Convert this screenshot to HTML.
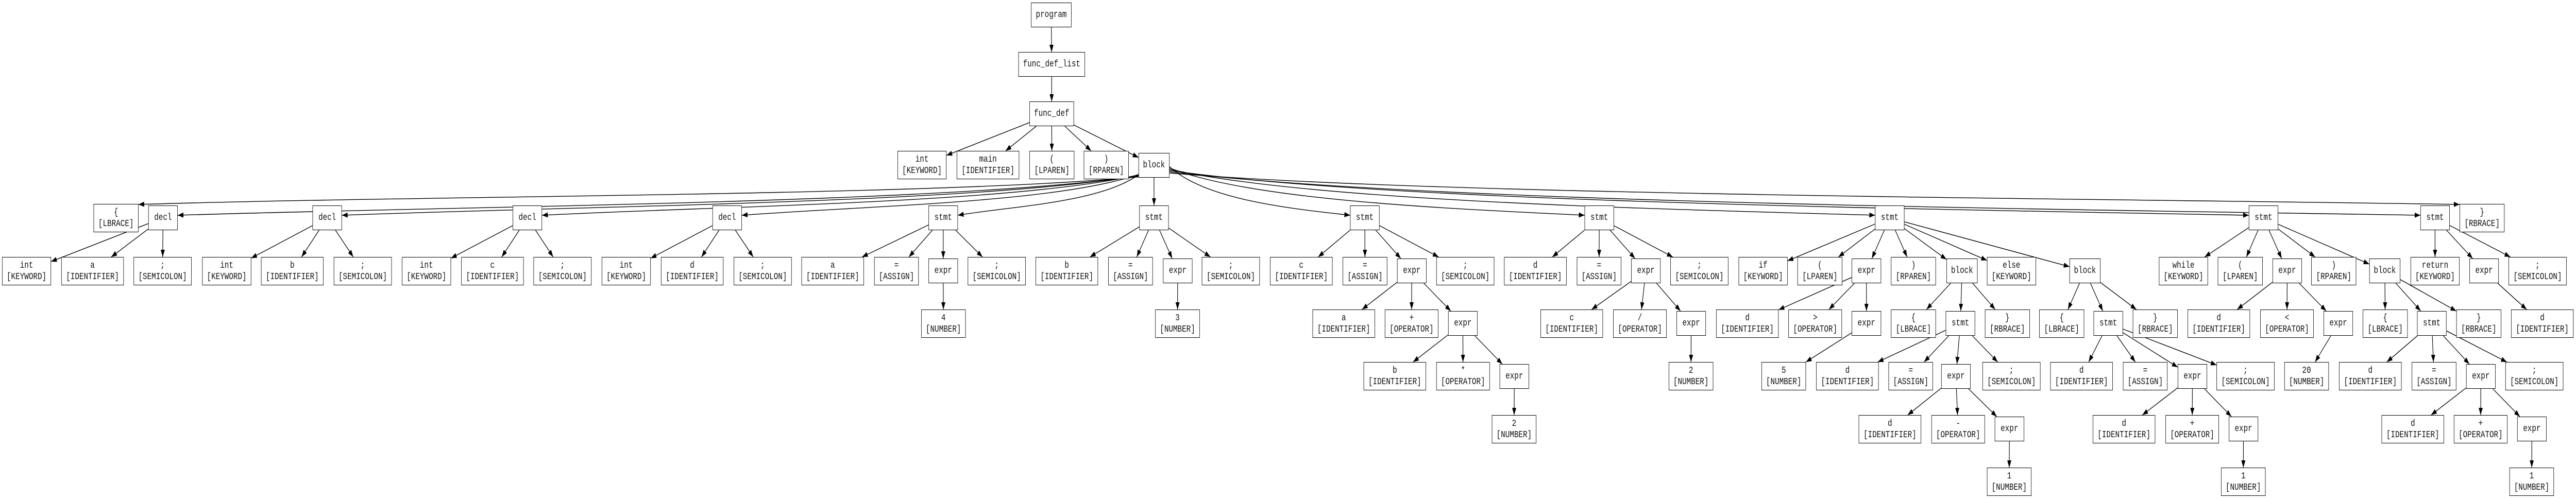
<!DOCTYPE html>
<html><head><meta charset="utf-8"><style>
html,body{margin:0;padding:0;background:#fff;width:100%;height:100%;overflow:hidden}
#c{position:absolute;left:0;top:0;width:6306px;height:969px;overflow:hidden;background:#fff;transform-origin:0 0}
svg{position:absolute;left:0;top:0}
.n{position:absolute;box-sizing:border-box;border:1.4px solid #000;background:#fff;text-align:center;font:18px/22px "Liberation Mono","DejaVu Sans Mono",monospace;color:#111;white-space:nowrap;overflow:hidden}
.s{height:48px;padding-top:12px}.t{height:55px;padding-top:5px}
.s.L0{top:5px}.s.L1{top:101px}.s.L2{top:197px}.s.L3{top:297px}.s.L4{top:399px}.s.L5{top:502px}.s.L6{top:604px}.s.L7{top:707px}.s.L8{top:809px}
.t.L3{top:293px}.t.L4{top:396px}.t.L5{top:499px}.t.L6{top:601px}.t.L7{top:703px}.t.L8{top:806px}.t.L9{top:908px}
.kw{width:120px}.id{width:153px}.sc{width:142px}.as{width:109px}.op{width:131px}.nu{width:109px}.pa{width:110px}.br{width:110px}.st{width:72px}.bl{width:76px}
</style></head><body><div id="c">
<svg id="e" width="6306" height="969"><defs><marker id="a" markerUnits="userSpaceOnUse" markerWidth="15" markerHeight="11" refX="14" refY="5" orient="auto"><path d="M0,0L14,5L0,10z" fill="#000"/></marker></defs></svg>

<div id="p" class="n s L0" style="left:2524px;width:99px">program</div>
<div id="fl" class="n s L1" style="left:2493px;width:163px">func_def_list</div>
<div id="fd" class="n s L2" style="left:2520px;width:109px">func_def</div>
<div id="k1" class="n t L3 kw" style="left:2197px">int<br>[KEYWORD]</div>
<div id="k2" class="n t L3 id" style="left:2342px">main<br>[IDENTIFIER]</div>
<div id="k3" class="n t L3 pa" style="left:2520px">(<br>[LPAREN]</div>
<div id="k4" class="n t L3 pa" style="left:2653px">)<br>[RPAREN]</div>
<div id="b" class="n s L3 bl" style="left:2787px">block</div>

<div id="lb" class="n t L4 br" style="left:229px">{<br>[LBRACE]</div>
<div id="d1" class="n s L4 st" style="left:363px">decl</div>
<div id="d2" class="n s L4 st" style="left:765px">decl</div>
<div id="d3" class="n s L4 st" style="left:1255px">decl</div>
<div id="d4" class="n s L4 st" style="left:1744px">decl</div>
<div id="s1" class="n s L4 st" style="left:2273px">stmt</div>
<div id="s2" class="n s L4 st" style="left:2789px">stmt</div>
<div id="s3" class="n s L4 st" style="left:3305px">stmt</div>
<div id="s4" class="n s L4 st" style="left:3879px">stmt</div>
<div id="s5" class="n s L4 st" style="left:4590px">stmt</div>
<div id="s6" class="n s L4 st" style="left:5505px">stmt</div>
<div id="s7" class="n s L4 st" style="left:5925px">stmt</div>
<div id="rb" class="n t L4 br" style="left:6021px">}<br>[RBRACE]</div>

<div id="d1a" class="n t L5 kw" style="left:5px">int<br>[KEYWORD]</div>
<div id="d1b" class="n t L5 id" style="left:150px">a<br>[IDENTIFIER]</div>
<div id="d1c" class="n t L5 sc" style="left:327px">;<br>[SEMICOLON]</div>
<div id="d2a" class="n t L5 kw" style="left:495px">int<br>[KEYWORD]</div>
<div id="d2b" class="n t L5 id" style="left:639px">b<br>[IDENTIFIER]</div>
<div id="d2c" class="n t L5 sc" style="left:817px">;<br>[SEMICOLON]</div>
<div id="d3a" class="n t L5 kw" style="left:984px">int<br>[KEYWORD]</div>
<div id="d3b" class="n t L5 id" style="left:1129px">c<br>[IDENTIFIER]</div>
<div id="d3c" class="n t L5 sc" style="left:1306px">;<br>[SEMICOLON]</div>
<div id="d4a" class="n t L5 kw" style="left:1473px">int<br>[KEYWORD]</div>
<div id="d4b" class="n t L5 id" style="left:1618px">d<br>[IDENTIFIER]</div>
<div id="d4c" class="n t L5 sc" style="left:1796px">;<br>[SEMICOLON]</div>

<div id="s1a" class="n t L5 id" style="left:1962px">a<br>[IDENTIFIER]</div>
<div id="s1b" class="n t L5 as" style="left:2140px">=<br>[ASSIGN]</div>
<div id="e1" class="n s L5 st" style="left:2273px">expr</div>
<div id="s1c" class="n t L5 sc" style="left:2369px">;<br>[SEMICOLON]</div>
<div id="n1" class="n t L6 nu" style="left:2255px">4<br>[NUMBER]</div>

<div id="s2a" class="n t L5 id" style="left:2535px">b<br>[IDENTIFIER]</div>
<div id="s2b" class="n t L5 as" style="left:2713px">=<br>[ASSIGN]</div>
<div id="e2" class="n s L5 st" style="left:2847px">expr</div>
<div id="s2c" class="n t L5 sc" style="left:2942px">;<br>[SEMICOLON]</div>
<div id="n2" class="n t L6 nu" style="left:2828px">3<br>[NUMBER]</div>

<div id="s3a" class="n t L5 id" style="left:3109px">c<br>[IDENTIFIER]</div>
<div id="s3b" class="n t L5 as" style="left:3287px">=<br>[ASSIGN]</div>
<div id="e3" class="n s L5 st" style="left:3420px">expr</div>
<div id="s3c" class="n t L5 sc" style="left:3516px">;<br>[SEMICOLON]</div>
<div id="e3a" class="n t L6 id" style="left:3213px">a<br>[IDENTIFIER]</div>
<div id="e3o" class="n t L6 op" style="left:3390px">+<br>[OPERATOR]</div>
<div id="e3b" class="n s L6 st" style="left:3545px">expr</div>
<div id="e3c" class="n t L7 id" style="left:3338px">b<br>[IDENTIFIER]</div>
<div id="e3p" class="n t L7 op" style="left:3516px">*<br>[OPERATOR]</div>
<div id="e3d" class="n s L7 st" style="left:3671px">expr</div>
<div id="n3" class="n t L8 nu" style="left:3652px">2<br>[NUMBER]</div>

<div id="s4a" class="n t L5 id" style="left:3682px">d<br>[IDENTIFIER]</div>
<div id="s4b" class="n t L5 as" style="left:3860px">=<br>[ASSIGN]</div>
<div id="e4" class="n s L5 st" style="left:3993px">expr</div>
<div id="s4c" class="n t L5 sc" style="left:4089px">;<br>[SEMICOLON]</div>
<div id="e4a" class="n t L6 id" style="left:3771px">c<br>[IDENTIFIER]</div>
<div id="e4o" class="n t L6 op" style="left:3949px">/<br>[OPERATOR]</div>
<div id="e4b" class="n s L6 st" style="left:4104px">expr</div>
<div id="n4" class="n t L7 nu" style="left:4085px">2<br>[NUMBER]</div>

<div id="s5a" class="n t L5 kw" style="left:4256px">if<br>[KEYWORD]</div>
<div id="s5b" class="n t L5 pa" style="left:4400px">(<br>[LPAREN]</div>
<div id="e5" class="n s L5 st" style="left:4533px">expr</div>
<div id="s5c" class="n t L5 pa" style="left:4629px">)<br>[RPAREN]</div>
<div id="b5" class="n s L5 bl" style="left:4765px">block</div>
<div id="s5d" class="n t L5 kw" style="left:4864px">else<br>[KEYWORD]</div>
<div id="b6" class="n s L5 bl" style="left:5066px">block</div>
<div id="e5a" class="n t L6 id" style="left:4201px">d<br>[IDENTIFIER]</div>
<div id="e5o" class="n t L6 op" style="left:4378px">&gt;<br>[OPERATOR]</div>
<div id="e5b" class="n s L6 st" style="left:4533px">expr</div>
<div id="n5" class="n t L7 nu" style="left:4312px">5<br>[NUMBER]</div>
<div id="b5a" class="n t L6 br" style="left:4629px">{<br>[LBRACE]</div>
<div id="t5" class="n s L6 st" style="left:4763px">stmt</div>
<div id="b5c" class="n t L6 br" style="left:4859px">}<br>[RBRACE]</div>
<div id="t5a" class="n t L7 id" style="left:4446px">d<br>[IDENTIFIER]</div>
<div id="t5b" class="n t L7 as" style="left:4623px">=<br>[ASSIGN]</div>
<div id="e5c" class="n s L7 st" style="left:4752px">expr</div>
<div id="t5c" class="n t L7 sc" style="left:4853px">;<br>[SEMICOLON]</div>
<div id="e5d" class="n t L8 id" style="left:4550px">d<br>[IDENTIFIER]</div>
<div id="e5p" class="n t L8 op" style="left:4728px">-<br>[OPERATOR]</div>
<div id="e5e" class="n s L8 st" style="left:4883px">expr</div>
<div id="n6" class="n t L9 nu" style="left:4864px">1<br>[NUMBER]</div>
<div id="b6a" class="n t L6 br" style="left:4992px">{<br>[LBRACE]</div>
<div id="t6" class="n s L6 st" style="left:5125px">stmt</div>
<div id="b6c" class="n t L6 br" style="left:5221px">}<br>[RBRACE]</div>
<div id="t6a" class="n t L7 id" style="left:5019px">d<br>[IDENTIFIER]</div>
<div id="t6b" class="n t L7 as" style="left:5197px">=<br>[ASSIGN]</div>
<div id="e6" class="n s L7 st" style="left:5331px">expr</div>
<div id="t6c" class="n t L7 sc" style="left:5426px">;<br>[SEMICOLON]</div>
<div id="e6a" class="n t L8 id" style="left:5123px">d<br>[IDENTIFIER]</div>
<div id="e6o" class="n t L8 op" style="left:5301px">+<br>[OPERATOR]</div>
<div id="e6b" class="n s L8 st" style="left:5456px">expr</div>
<div id="n7" class="n t L9 nu" style="left:5437px">1<br>[NUMBER]</div>

<div id="s6a" class="n t L5 kw" style="left:5285px">while<br>[KEYWORD]</div>
<div id="s6b" class="n t L5 pa" style="left:5429px">(<br>[LPAREN]</div>
<div id="e7" class="n s L5 st" style="left:5563px">expr</div>
<div id="s6c" class="n t L5 pa" style="left:5658px">)<br>[RPAREN]</div>
<div id="b7" class="n s L5 bl" style="left:5800px">block</div>
<div id="e7a" class="n t L6 id" style="left:5355px">d<br>[IDENTIFIER]</div>
<div id="e7o" class="n t L6 op" style="left:5533px">&lt;<br>[OPERATOR]</div>
<div id="e7b" class="n s L6 st" style="left:5688px">expr</div>
<div id="n8" class="n t L7 nu" style="left:5592px">20<br>[NUMBER]</div>
<div id="b7a" class="n t L6 br" style="left:5784px">{<br>[LBRACE]</div>
<div id="t7" class="n s L6 st" style="left:5917px">stmt</div>
<div id="b7c" class="n t L6 br" style="left:6013px">}<br>[RBRACE]</div>
<div id="t7a" class="n t L7 id" style="left:5726px">d<br>[IDENTIFIER]</div>
<div id="t7b" class="n t L7 as" style="left:5904px">=<br>[ASSIGN]</div>
<div id="e8" class="n s L7 st" style="left:6037px">expr</div>
<div id="t7c" class="n t L7 sc" style="left:6133px">;<br>[SEMICOLON]</div>
<div id="e8a" class="n t L8 id" style="left:5830px">d<br>[IDENTIFIER]</div>
<div id="e8o" class="n t L8 op" style="left:6007px">+<br>[OPERATOR]</div>
<div id="e8b" class="n s L8 st" style="left:6162px">expr</div>
<div id="n9" class="n t L9 nu" style="left:6143px">1<br>[NUMBER]</div>

<div id="s7a" class="n t L5 kw" style="left:5901px">return<br>[KEYWORD]</div>
<div id="e9" class="n s L5 st" style="left:6045px">expr</div>
<div id="s7c" class="n t L5 sc" style="left:6141px">;<br>[SEMICOLON]</div>
<div id="e9a" class="n t L6 id" style="left:6147px">d<br>[IDENTIFIER]</div>
</div>
<script>
var T={p:["fl"],fl:["fd"],fd:["k1","k2","k3","k4","b"],
d1:["d1a","d1b","d1c"],d2:["d2a","d2b","d2c"],d3:["d3a","d3b","d3c"],d4:["d4a","d4b","d4c"],
s1:["s1a","s1b","e1","s1c"],e1:["n1"],s2:["s2a","s2b","e2","s2c"],e2:["n2"],
s3:["s3a","s3b","e3","s3c"],e3:["e3a","e3o","e3b"],e3b:["e3c","e3p","e3d"],e3d:["n3"],
s4:["s4a","s4b","e4","s4c"],e4:["e4a","e4o","e4b"],e4b:["n4"],
s5:["s5a","s5b","e5","s5c","b5","s5d","b6"],e5:["e5a","e5o","e5b"],e5b:["n5"],
b5:["b5a","t5","b5c"],t5:["t5a","t5b","e5c","t5c"],e5c:["e5d","e5p","e5e"],e5e:["n6"],
b6:["b6a","t6","b6c"],t6:["t6a","t6b","e6","t6c"],e6:["e6a","e6o","e6b"],e6b:["n7"],
s6:["s6a","s6b","e7","s6c","b7"],e7:["e7a","e7o","e7b"],e7b:["n8"],
b7:["b7a","t7","b7c"],t7:["t7a","t7b","e8","t7c"],e8:["e8a","e8o","e8b"],e8b:["n9"],
s7:["s7a","e9","s7c"],e9:["e9a"]};
var svg=document.getElementById("e"),NS="http://www.w3.org/2000/svg";
function R(id){var e=document.getElementById(id);return{x:e.offsetLeft,y:e.offsetTop,w:e.offsetWidth,h:e.offsetHeight};}
function add(d){var p=document.createElementNS(NS,"path");p.setAttribute("d",d);p.setAttribute("fill","none");p.setAttribute("stroke","#000");p.setAttribute("stroke-width","1.4");p.setAttribute("marker-end","url(#a)");svg.appendChild(p);}
function clip(r,dx,dy){var cx=r.x+r.w/2,cy=r.y+r.h/2;var t=Math.min(dx?r.w/2/Math.abs(dx):1e9,dy?r.h/2/Math.abs(dy):1e9);return[cx+dx*t,cy+dy*t];}
for(var k in T){T[k].forEach(function(c){var a=R(k),b=R(c);var dx=(b.x+b.w/2)-(a.x+a.w/2),dy=(b.y+b.h/2)-(a.y+a.h/2);var s=clip(a,dx,dy),e=clip(b,-dx,-dy);add("M"+s[0]+","+s[1]+"L"+e[0]+","+e[1]);});}
var B=R("b");
["lb","d1","d2","d3","d4","s1","s3","s4","s5","s6","s7","rb"].forEach(function(c,i){var r=R(c),sx,sy,ex,ey;
var left=r.x<B.x;
if(left){sx=B.x+6;sy=B.y+B.h-2-i*1.5;ex=r.x+r.w;ey=(c=="lb")?r.y+1:r.y+19;}
else{sx=B.x+B.w;sy=B.y+24+(i-5)*2.5;ex=r.x;ey=(c=="rb")?r.y+1:r.y+19;}
var dx=ex-sx;var p1x=sx+dx*0.2,p1y=sy+(ey-sy)*0.7,p2x=ex-dx*0.3,p2y=ey-(left?18:12);
add("M"+sx+","+sy+"C"+p1x+","+p1y+" "+p2x+","+p2y+" "+ex+","+ey);});
(function(){var a=R("b"),b=R("s2");var x=a.x+a.w/2;add("M"+x+","+(a.y+a.h)+"L"+x+","+b.y);})();
function fit(){var w=window.innerWidth||document.documentElement.clientWidth||6306,h=window.innerHeight||document.documentElement.clientHeight||969;
var sx=w/6306,sy=h/969;if(Math.abs(sx-1)<0.002)sx=1;if(Math.abs(sy-1)<0.002)sy=1;
document.getElementById("c").style.transform="scale("+sx+","+sy+")";}
fit();window.addEventListener("resize",fit);
</script>
</body></html>
